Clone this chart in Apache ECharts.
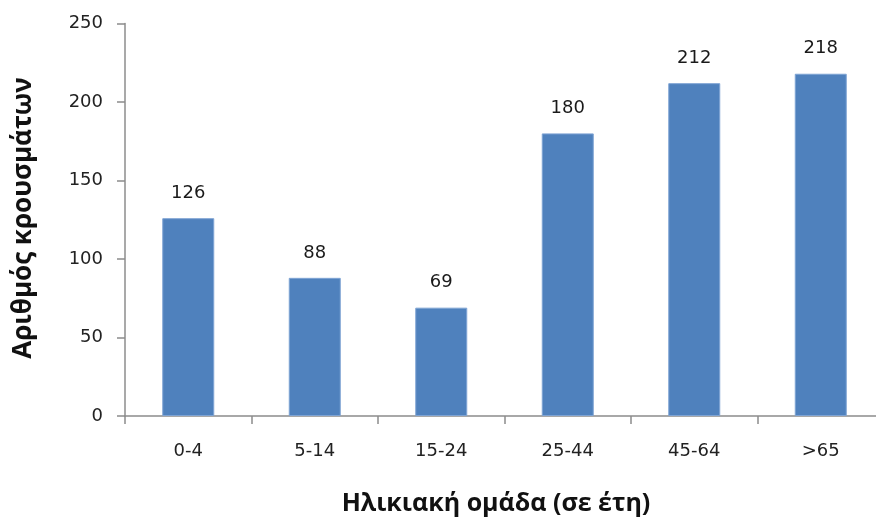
<!DOCTYPE html>
<html>
<head>
<meta charset="utf-8">
<script src="https://cdn.jsdelivr.net/npm/echarts@6/dist/echarts.min.js"></script>
<style>
  html, body { margin: 0; padding: 0; background: #fff; }
  #chart { width: 876px; height: 521px; }
</style>
</head>
<body>
<div id="chart"></div>
<script>
// Age groups and number of cases
const categories = ['0-4', '5-14', '15-24', '25-44', '45-64', '>65'];
const cases = [126, 88, 69, 180, 212, 218];
const yTitle = 'Αριθμός κρουσμάτων';
const xTitle = 'Ηλικιακή ομάδα (σε έτη)';

const NUM_FONT = '"DejaVu Sans", "Open Sans", sans-serif';
const TITLE_FONT = '"Open Sans", "DejaVu Sans", sans-serif';
const chart = echarts.init(document.getElementById('chart'), null, { renderer: 'canvas' });

chart.setOption({
  animation: false,
  backgroundColor: '#ffffff',
  grid: { left: 125, top: 23.5, width: 759, height: 392.5, containLabel: false, outerBoundsMode: 'none' },
  xAxis: {
    type: 'category',
    data: categories,
    axisLine: { lineStyle: { color: '#8c8c8c', width: 1.5 } },
    axisTick: { show: true, length: 8, lineStyle: { color: '#8c8c8c', width: 1.5 } },
    axisLabel: { fontFamily: NUM_FONT, fontSize: 18, color: '#222', margin: 26 }
  },
  yAxis: {
    type: 'value',
    min: 0, max: 250, interval: 50,
    splitLine: { show: false },
    axisLine: { show: true, lineStyle: { color: '#8c8c8c', width: 1.5 } },
    axisTick: { show: true, length: 8, lineStyle: { color: '#8c8c8c', width: 1.5 } },
    axisLabel: { fontFamily: NUM_FONT, fontSize: 18, color: '#222', margin: 22 }
  },
  series: [{
    type: 'bar',
    data: cases,
    barWidth: 52,
    itemStyle: { color: '#4f81bd', borderColor: '#7fa4d4', borderWidth: 1 },
    label: {
      show: true,
      position: 'top',
      distance: 16,
      fontFamily: NUM_FONT,
      fontSize: 18,
      color: '#1a1a1a'
    }
  }],
  graphic: [
    {
      type: 'text',
      x: 496, y: 504,
      style: { text: xTitle, fontFamily: TITLE_FONT, fontSize: 25, fontWeight: 'bold', fill: '#111', align: 'center', verticalAlign: 'middle' }
    },
    {
      type: 'text',
      x: 24, y: 218,
      rotation: Math.PI / 2,
      style: { text: yTitle, fontFamily: TITLE_FONT, fontSize: 26, fontWeight: 'bold', fill: '#111', align: 'center', verticalAlign: 'middle' }
    }
  ]
});
</script>
</body>
</html>
